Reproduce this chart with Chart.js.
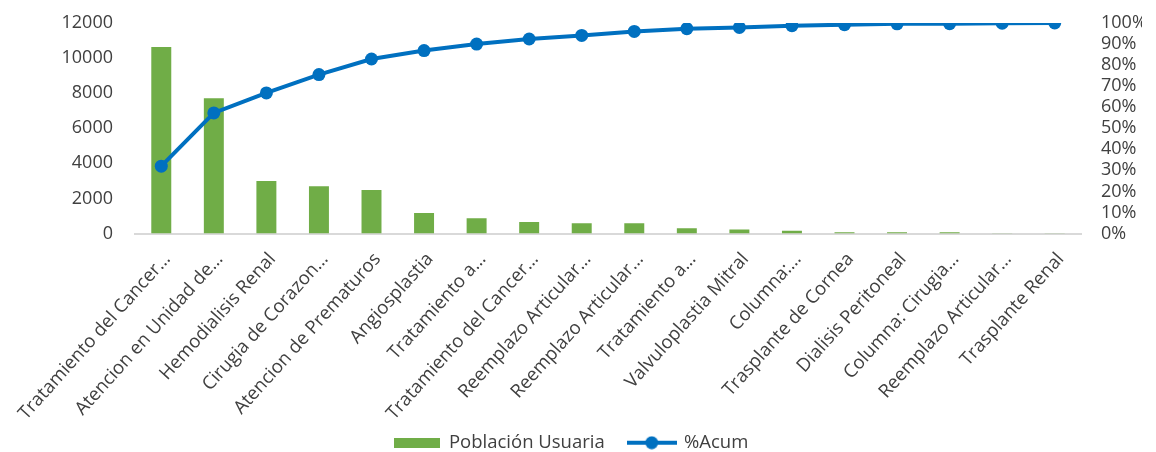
<!DOCTYPE html>
<html>
<head>
<meta charset="utf-8">
<script src="https://cdn.jsdelivr.net/npm/chart.js@4/dist/chart.umd.min.js"></script>
<style>
html,body{margin:0;padding:0;background:#fff;}
#wrap{width:1156px;height:452px;position:relative;}
</style>
</head>
<body>
<div id="wrap"><canvas id="c" width="1156" height="452"></canvas></div>
<script>
const categories = [
  "Tratamiento del Cancer…",
  "Atencion en Unidad de…",
  "Hemodialisis Renal",
  "Cirugia de Corazon…",
  "Atencion de Prematuros",
  "Angiosplastia",
  "Tratamiento a…",
  "Tratamiento del Cancer…",
  "Reemplazo Articular…",
  "Reemplazo Articular…",
  "Tratamiento a…",
  "Valvuloplastia Mitral",
  "Columna:…",
  "Trasplante de Cornea",
  "Dialisis Peritoneal",
  "Columna: Cirugia…",
  "Reemplazo Articular…",
  "Trasplante Renal"
];
const poblacionUsuaria = [10630, 7710, 2990, 2690, 2480, 1170, 870, 660, 585, 585, 300, 230, 155, 75, 75, 75, 20, 10];
const pctAcum = [32.0, 57.3, 66.8, 75.5, 82.9, 86.9, 90.0, 92.4, 94.1, 96.0, 97.3, 97.9, 98.7, 99.2, 99.6, 99.7, 99.9, 100];
const leftTicks = [0, 2000, 4000, 6000, 8000, 10000, 12000];
const rightTicks = [0,10,20,30,40,50,60,70,80,90,100];

const GREEN = '#70AD47';
const BLUE = '#0070C0';
const TXT = '#404040';
const FONT = "'Open Sans', 'Liberation Sans', sans-serif";

function barIcon(){
  const c = document.createElement('canvas');
  c.width = 46; c.height = 10;
  const x = c.getContext('2d');
  x.fillStyle = GREEN; x.fillRect(0,0,46,10);
  return c;
}
function lineIcon(){
  const c = document.createElement('canvas');
  c.width = 50; c.height = 14;
  const x = c.getContext('2d');
  x.strokeStyle = BLUE; x.lineWidth = 4;
  x.beginPath(); x.moveTo(0,7); x.lineTo(50,7); x.stroke();
  x.fillStyle = BLUE; x.beginPath(); x.arc(25,7,6.5,0,Math.PI*2); x.fill();
  return c;
}

new Chart(document.getElementById('c'), {
  data: {
    labels: categories,
    datasets: [
      {
        type: 'line',
        label: '%Acum',
        data: pctAcum,
        yAxisID: 'y2',
        borderColor: BLUE,
        backgroundColor: BLUE,
        borderWidth: 4,
        pointRadius: 6.5,
        pointHoverRadius: 6.5,
        pointBackgroundColor: BLUE,
        pointBorderWidth: 0,
        tension: 0,
        order: 1,
        pointStyle: 'circle'
      },
      {
        type: 'bar',
        label: 'Población Usuaria',
        data: poblacionUsuaria,
        yAxisID: 'y',
        backgroundColor: GREEN,
        borderWidth: 0,
        categoryPercentage: 1,
        barPercentage: 0.38,
        order: 2
      }
    ]
  },
  options: {
    responsive: false,
    animation: false,
    layout: { padding: { top: 23, left: 0, right: 14, bottom: -10 } },
    plugins: {
      tooltip: { enabled: false },
      legend: {
        position: 'bottom',
        reverse: true,
        labels: {
          font: { family: FONT, size: 18.5 },
          color: TXT,
          padding: 24,
          usePointStyle: true,
          pointStyleWidth: 46,
          generateLabels: (chart) => {
            return [
              { text: '%Acum', datasetIndex: 0, pointStyle: lineIcon(), fillStyle: BLUE, strokeStyle: BLUE, lineWidth: 0, fontColor: TXT },
              { text: 'Población Usuaria', datasetIndex: 1, pointStyle: barIcon(), fillStyle: GREEN, strokeStyle: GREEN, lineWidth: 0, fontColor: TXT }
            ];
          }
        }
      }
    },
    scales: {
      x: {
        grid: { display: false, drawTicks: false },
        border: { display: true, color: '#D9D9D9', width: 2 },
        ticks: {
          font: { family: FONT, size: 18.5 },
          color: TXT,
          minRotation: 48,
          maxRotation: 48,
          autoSkip: false,
          padding: 15,
          labelOffset: 6
        },
        afterFit: (s) => {
          s.height = 176; s.paddingLeft = 0; s.paddingRight = 0;
          s._computeLabelArea = function () { return undefined; };
        }
      },
      y: {
        position: 'left',
        min: 0, max: 12000,
        afterBuildTicks: (s) => { s.ticks = leftTicks.map(v => ({ value: v })); },
        grid: { display: false, drawTicks: true, tickLength: 12 },
        border: { display: false },
        ticks: {
          font: { family: FONT, size: 18 },
          color: TXT,
          padding: 10,
          callback: (v) => String(v)
        },
        afterFit: (s) => { s.width = 135; }
      },
      y2: {
        position: 'right',
        min: 0, max: 100,
        afterBuildTicks: (s) => { s.ticks = rightTicks.map(v => ({ value: v })); },
        grid: { display: false, drawTicks: true, tickLength: 12 },
        border: { display: false },
        ticks: {
          font: { family: FONT, size: 18 },
          color: TXT,
          padding: 8,
          autoSkip: false,
          callback: (v) => v + '%'
        },
        afterFit: (s) => { s.width = 61; }
      }
    }
  }
});
</script>
</body>
</html>
